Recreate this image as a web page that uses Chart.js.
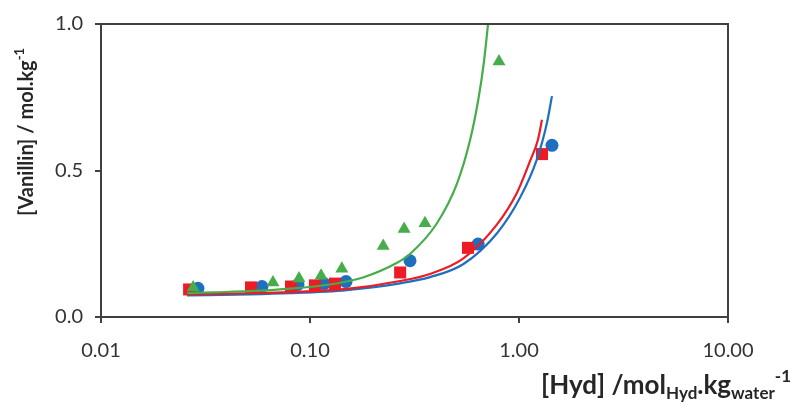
<!DOCTYPE html>
<html lang="en">
<head>
    <meta charset="UTF-8">
    <script src="https://cdn.jsdelivr.net/npm/chart.js"></script>
    <title>Vanillin vs Hyd</title>
    <style>
        body { margin: 0; background: #fff; }
        .grafico { width: 800px; height: 414px; }
    </style>
</head>
<body>
    <div class="grafico">
        <canvas id="grafico_1" width="800" height="414"></canvas>
    </div>

    <script>
        const greenHyd = [0.0276, 0.0665, 0.0886, 0.113, 0.142, 0.224, 0.282, 0.355, 0.802];
        const greenVan = [0.101, 0.118, 0.131, 0.141, 0.165, 0.242, 0.300, 0.320, 0.872];

        const redHyd = [0.0264, 0.0522, 0.0811, 0.1056, 0.1317, 0.270, 0.570, 1.288];
        const redVan = [0.094, 0.101, 0.104, 0.108, 0.114, 0.152, 0.236, 0.556];

        const blueHyd = [0.0291, 0.0589, 0.0876, 0.1167, 0.1487, 0.301, 0.637, 1.438];
        const blueVan = [0.098, 0.104, 0.111, 0.114, 0.121, 0.192, 0.249, 0.586];

        // model curves
        const greenCurveHyd = [0.0258, 0.0343, 0.0516, 0.0719, 0.1247, 0.1793, 0.2609, 0.3009, 0.405, 0.505, 0.583, 0.637, 0.680, 0.711, 0.74];
        const greenCurveVan = [0.081, 0.084, 0.088, 0.094, 0.111, 0.135, 0.185, 0.215, 0.320, 0.455, 0.603, 0.737, 0.872, 1.0, 1.12];

        const redCurveHyd = [0.0258, 0.0516, 0.0802, 0.150, 0.270, 0.375, 0.540, 0.785, 0.978, 1.129, 1.233, 1.288];
        const redCurveVan = [0.077, 0.081, 0.085, 0.096, 0.123, 0.147, 0.199, 0.316, 0.424, 0.532, 0.606, 0.673];

        const blueCurveHyd = [0.0258, 0.0516, 0.0802, 0.150, 0.270, 0.375, 0.540, 0.785, 1.011, 1.219, 1.361, 1.438];
        const blueCurveVan = [0.074, 0.077, 0.081, 0.092, 0.115, 0.136, 0.180, 0.286, 0.407, 0.539, 0.663, 0.754];

        const xTicks = [0.01, 0.1, 1, 10];
        const yTicks = [0, 0.5, 1];

        const verde = '#45ad4a';
        const vermelho = '#ed1c24';
        const azul = '#1f6fc0';
        const eixo = '#404040';
        const fonte = 'Lato, "Open Sans", sans-serif';

        function pares(xs, ys) {
            return xs.map((x, i) => ({ x: x, y: ys[i] }));
        }

        function curva(xs, ys, cor) {
            return {
                data: pares(xs, ys),
                showLine: true,
                borderColor: cor,
                borderWidth: 2.2,
                pointRadius: 0,
                cubicInterpolationMode: 'monotone',
                fill: false
            };
        }

        // box around the plot + axis titles with sub/superscripts
        const molduraETitulos = {
            id: 'molduraETitulos',
            afterDraw(chart) {
                const ctx = chart.ctx;
                const a = chart.chartArea;
                ctx.save();
                ctx.strokeStyle = eixo;
                ctx.lineWidth = 2;
                ctx.beginPath();
                ctx.moveTo(a.left, a.top);
                ctx.lineTo(a.right, a.top);
                ctx.lineTo(a.right, a.bottom);
                ctx.stroke();

                ctx.fillStyle = '#262626';
                ctx.textBaseline = 'alphabetic';

                // y title (rotated)
                let big = 'bold 20px ' + fonte;
                let small = 'bold 13px ' + fonte;
                ctx.font = big;
                const t1 = '[Vanillin] / mol.kg';
                const w1 = ctx.measureText(t1).width;
                ctx.font = small;
                const w2 = ctx.measureText('-1').width;
                const total = w1 + w2;
                ctx.save();
                ctx.translate(33, 132);
                ctx.rotate(-Math.PI / 2);
                ctx.font = big;
                ctx.fillText(t1, -total / 2, 0);
                ctx.font = small;
                ctx.fillText('-1', -total / 2 + w1, -9);
                ctx.restore();

                // x title (right aligned)
                big = 'bold 26px ' + fonte;
                small = 'bold 17px ' + fonte;
                const partes = [
                    { t: '[Hyd] /mol', f: big, dy: 0 },
                    { t: 'Hyd', f: small, dy: 5 },
                    { t: '.kg', f: big, dy: 0 },
                    { t: 'water', f: small, dy: 5 },
                    { t: '-1', f: small, dy: -12 }
                ];
                let largura = 0;
                partes.forEach(p => { ctx.font = p.f; p.w = ctx.measureText(p.t).width; largura += p.w; });
                let x = 791 - largura;
                const base = 394;
                partes.forEach(p => {
                    ctx.font = p.f;
                    ctx.fillText(p.t, x, base + p.dy);
                    x += p.w;
                });
                ctx.restore();
            }
        };

        const ctx = document.getElementById('grafico_1');

        const grafico_1 = new Chart(ctx, {
            type: 'scatter',
            data: {
                datasets: [
                    curva(greenCurveHyd, greenCurveVan, verde),
                    curva(redCurveHyd, redCurveVan, vermelho),
                    curva(blueCurveHyd, blueCurveVan, azul),
                    {
                        data: pares(greenHyd, greenVan),
                        pointStyle: 'triangle',
                        pointRadius: 7.5,
                        backgroundColor: verde,
                        borderColor: verde,
                        borderWidth: 0
                    },
                    {
                        data: pares(redHyd, redVan),
                        pointStyle: 'rect',
                        pointRadius: 8.5,
                        backgroundColor: vermelho,
                        borderColor: vermelho,
                        borderWidth: 0
                    },
                    {
                        data: pares(blueHyd, blueVan),
                        pointStyle: 'circle',
                        pointRadius: 6.5,
                        backgroundColor: azul,
                        borderColor: azul,
                        borderWidth: 0
                    }
                ]
            },
            options: {
                responsive: false,
                animation: false,
                layout: { padding: { left: 0, top: 20, right: 72, bottom: 0 } },
                plugins: {
                    legend: { display: false },
                    tooltip: { enabled: false }
                },
                scales: {
                    x: {
                        type: 'logarithmic',
                        min: 0.01,
                        max: 10,
                        afterBuildTicks: s => { s.ticks = xTicks.map(v => ({ value: v })); },
                        afterFit: s => { s.height = 97; },
                        grid: { display: true, drawOnChartArea: false, drawTicks: true, tickLength: 6, color: eixo, lineWidth: 2 },
                        border: { display: true, color: eixo, width: 2 },
                        ticks: {
                            padding: 16,
                            color: '#333',
                            maxRotation: 0,
                            autoSkip: false,
                            font: { family: fonte, size: 20 },
                            callback: v => Number(v).toFixed(2)
                        }
                    },
                    y: {
                        min: 0,
                        max: 1,
                        afterBuildTicks: s => { s.ticks = yTicks.map(v => ({ value: v })); },
                        afterFit: s => { s.width = 101; },
                        grid: { display: true, drawOnChartArea: false, drawTicks: true, tickLength: 6, color: eixo, lineWidth: 2 },
                        border: { display: true, color: eixo, width: 2 },
                        ticks: {
                            padding: 12,
                            color: '#333',
                            font: { family: fonte, size: 20 },
                            callback: v => Number(v).toFixed(1)
                        }
                    }
                }
            },
            plugins: [molduraETitulos]
        });
    </script>
</body>
</html>
